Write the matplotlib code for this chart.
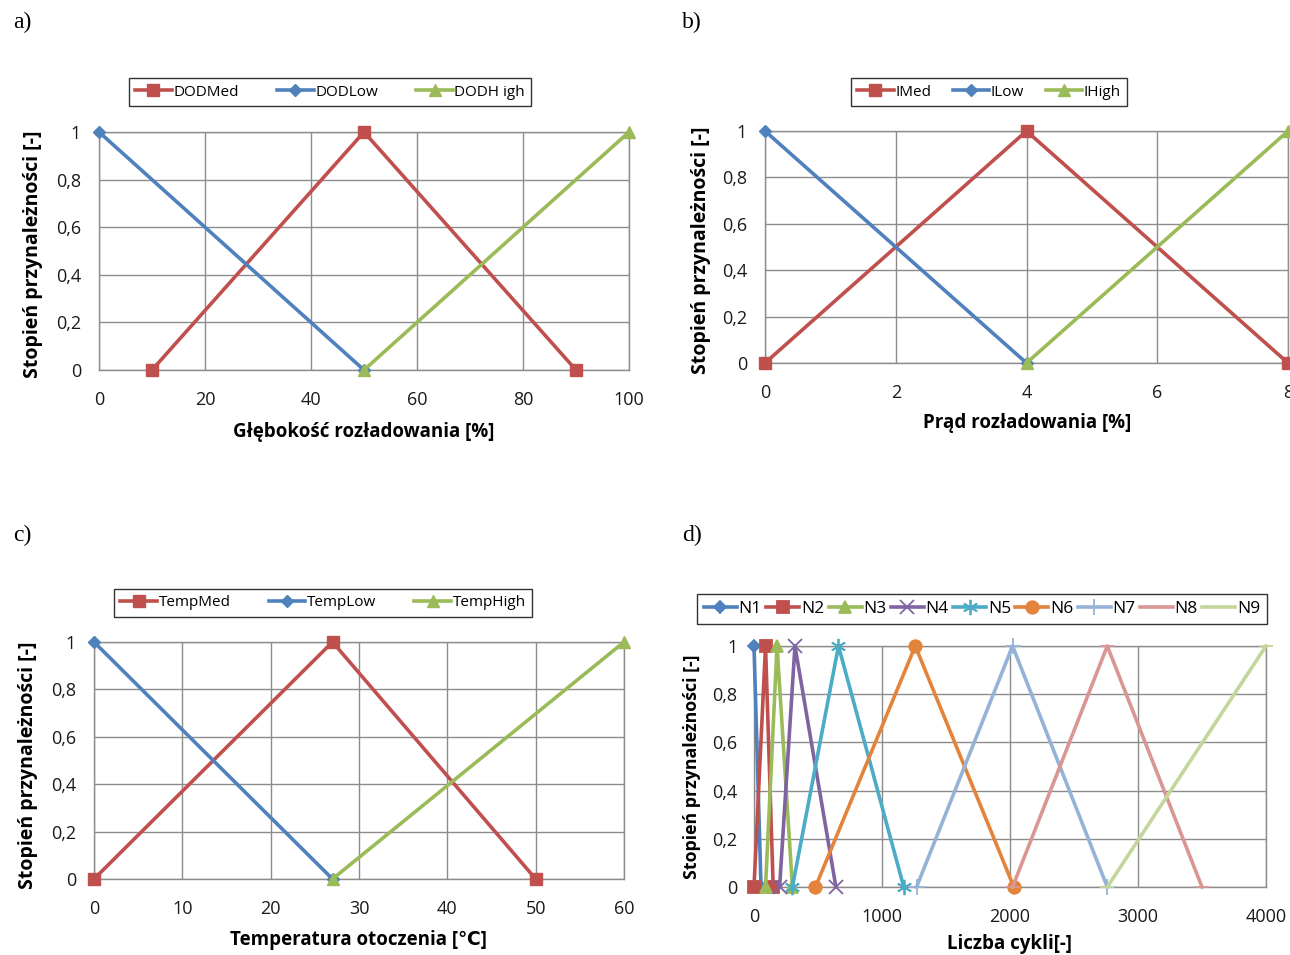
import matplotlib
matplotlib.use("Agg")
import matplotlib.pyplot as plt
from matplotlib.ticker import FuncFormatter

W, H = 1290, 955

# membership functions: breakpoints (x) and degree (y)
dod_med_x, dod_med_y = [10, 50, 90], [0, 1, 0]
dod_low_x, dod_low_y = [0, 50], [1, 0]
dod_high_x, dod_high_y = [50, 100], [0, 1]

i_med_x, i_med_y = [0, 4, 8], [0, 1, 0]
i_low_x, i_low_y = [0, 4], [1, 0]
i_high_x, i_high_y = [4, 8], [0, 1]

temp_med_x, temp_med_y = [0, 27, 50], [0, 1, 0]
temp_low_x, temp_low_y = [0, 27], [1, 0]
temp_high_x, temp_high_y = [27, 60], [0, 1]

n_names = ["N1", "N2", "N3", "N4", "N5", "N6", "N7", "N8", "N9"]
n_x = [
    [0, 55],
    [0, 90, 150],
    [90, 180, 300],
    [200, 320, 640],
    [300, 660, 1170],
    [480, 1260, 2030],
    [1270, 2020, 2760],
    [2020, 2760, 3500],
    [2760, 4000],
]
n_y = [
    [1, 0],
    [0, 1, 0],
    [0, 1, 0],
    [0, 1, 0],
    [0, 1, 0],
    [0, 1, 0],
    [0, 1, 0],
    [0, 1, 0],
    [0, 1],
]

RED, BLUE, GREEN = "#C0504D", "#4F81BD", "#9BBB59"
n_colors = [BLUE, RED, GREEN, "#8064A2", "#4BACC6", "#E4843C",
            "#95B3D7", "#D99694", "#C3D69B"]
n_markers = ["D", "s", "^", "x", (6, 2, 0), "o", "+", "_", "_"]
n_msizes = [6, 8, 9, 10, 11, 9, 12, 10, 10]

FONT = ["Open Sans", "DejaVu Sans"]
plt.rcParams["font.family"] = FONT


def fx(px):
    return px / W


def fy(py):
    return 1 - py / H


def add_axes_px(l, t, r, b):
    return fig.add_axes([fx(l), fy(b), fx(r) - fx(l), fy(t) - fy(b)])


def comma(v, pos):
    if abs(v - round(v)) < 1e-9:
        return "%d" % round(v)
    return ("%.1f" % v).replace(".", ",")


def style_axes(ax, xlim, xticks, tick_size=13, xpad=15, ypad=13):
    ax.set_xlim(*xlim)
    ax.set_ylim(0, 1)
    ax.set_xticks(xticks)
    ax.set_yticks([0, 0.2, 0.4, 0.6, 0.8, 1.0])
    ax.yaxis.set_major_formatter(FuncFormatter(comma))
    ax.grid(True, color="#8C8C8C", linewidth=1.0)
    ax.set_axisbelow(True)
    for s in ax.spines.values():
        s.set_color("#8C8C8C")
        s.set_linewidth(1.0)
    ax.tick_params(length=0, labelsize=tick_size, colors="#1A1A1A")
    ax.tick_params(axis="x", pad=xpad)
    ax.tick_params(axis="y", pad=ypad)


def draw_three(ax, med, low, high, names):
    ax.plot(med[0], med[1], color=RED, lw=2.6, marker="s", ms=9,
            label=names[0], clip_on=False, zorder=3)
    ax.plot(low[0], low[1], color=BLUE, lw=2.6, marker="D", ms=6,
            label=names[1], clip_on=False, zorder=3)
    ax.plot(high[0], high[1], color=GREEN, lw=2.6, marker="^", ms=9,
            label=names[2], clip_on=False, zorder=3)


def add_legend(ax, cx, cy, ncol, size, spacing=1.6, hlen=2.4):
    leg = fig.legend(*ax.get_legend_handles_labels(), loc="center",
                     bbox_to_anchor=(fx(cx), fy(cy)), ncol=ncol,
                     fontsize=size, frameon=True, fancybox=False,
                     handlelength=hlen, handletextpad=0.1,
                     columnspacing=spacing, borderpad=0.4)
    leg.get_frame().set_edgecolor("black")
    leg.get_frame().set_linewidth(1.0)
    return leg


def labels(xtext, xc, yc, ytext, ylx, yly, ysize=14):
    fig.text(fx(xc), fy(yc), xtext, ha="center", va="center",
             fontsize=13.5, fontweight="bold", family=FONT)
    fig.text(fx(ylx), fy(yly), ytext, ha="center", va="center",
             rotation=90, fontsize=ysize, fontweight="bold", family=FONT)


fig = plt.figure(figsize=(W / 100, H / 100), dpi=100)
ylab = "Stopień przynależności [-]"

# a) depth of discharge
ax_a = add_axes_px(99, 132, 629, 370)
style_axes(ax_a, (0, 100), [0, 20, 40, 60, 80, 100])
draw_three(ax_a, (dod_med_x, dod_med_y), (dod_low_x, dod_low_y),
           (dod_high_x, dod_high_y), ["DODMed", "DODLow", "DODH igh"])
add_legend(ax_a, 330, 92, 3, 11, spacing=2.5)
labels("Głębokość rozładowania [%]", 364, 432, ylab, 33, 254)

# b) discharge current
ax_b = add_axes_px(765, 131, 1288, 363)
style_axes(ax_b, (0, 8), [0, 2, 4, 6, 8])
draw_three(ax_b, (i_med_x, i_med_y), (i_low_x, i_low_y),
           (i_high_x, i_high_y), ["IMed", "ILow", "IHigh"])
add_legend(ax_b, 989, 92, 3, 11, spacing=1.4)
labels("Prąd rozładowania [%]", 1027, 423, ylab, 701, 250)

# c) ambient temperature
ax_c = add_axes_px(94, 642, 624, 879)
style_axes(ax_c, (0, 60), [0, 10, 20, 30, 40, 50, 60])
draw_three(ax_c, (temp_med_x, temp_med_y), (temp_low_x, temp_low_y),
           (temp_high_x, temp_high_y), ["TempMed", "TempLow", "TempHigh"])
add_legend(ax_c, 323, 603, 3, 11, spacing=2.5)
labels("Temperatura otoczenia [\u2103]", 358, 940, ylab, 28, 765)

# d) number of cycles
ax_d = add_axes_px(754, 646, 1266, 887)
style_axes(ax_d, (0, 4000), [0, 1000, 2000, 3000, 4000], xpad=15, ypad=12)
for name, xs, ys, c, m, ms in zip(n_names, n_x, n_y, n_colors,
                                  n_markers, n_msizes):
    ax_d.plot(xs, ys, color=c, lw=2.6, marker=m, ms=ms, mew=1.3,
              label=name, clip_on=False, zorder=3)
add_legend(ax_d, 982, 609, 9, 12.5, spacing=0.25, hlen=1.9)
labels("Liczba cykli[-]", 1009, 944, ylab, 692, 767, ysize=12.8)

# panel letters
for letter, px, py in [("a)", 22, 22), ("b)", 692, 22),
                       ("c)", 22, 535), ("d)", 692, 535)]:
    fig.text(fx(px), fy(py), letter, ha="center", va="center",
             fontsize=17, family="Liberation Serif")

fig.savefig("out.png", dpi=100)
